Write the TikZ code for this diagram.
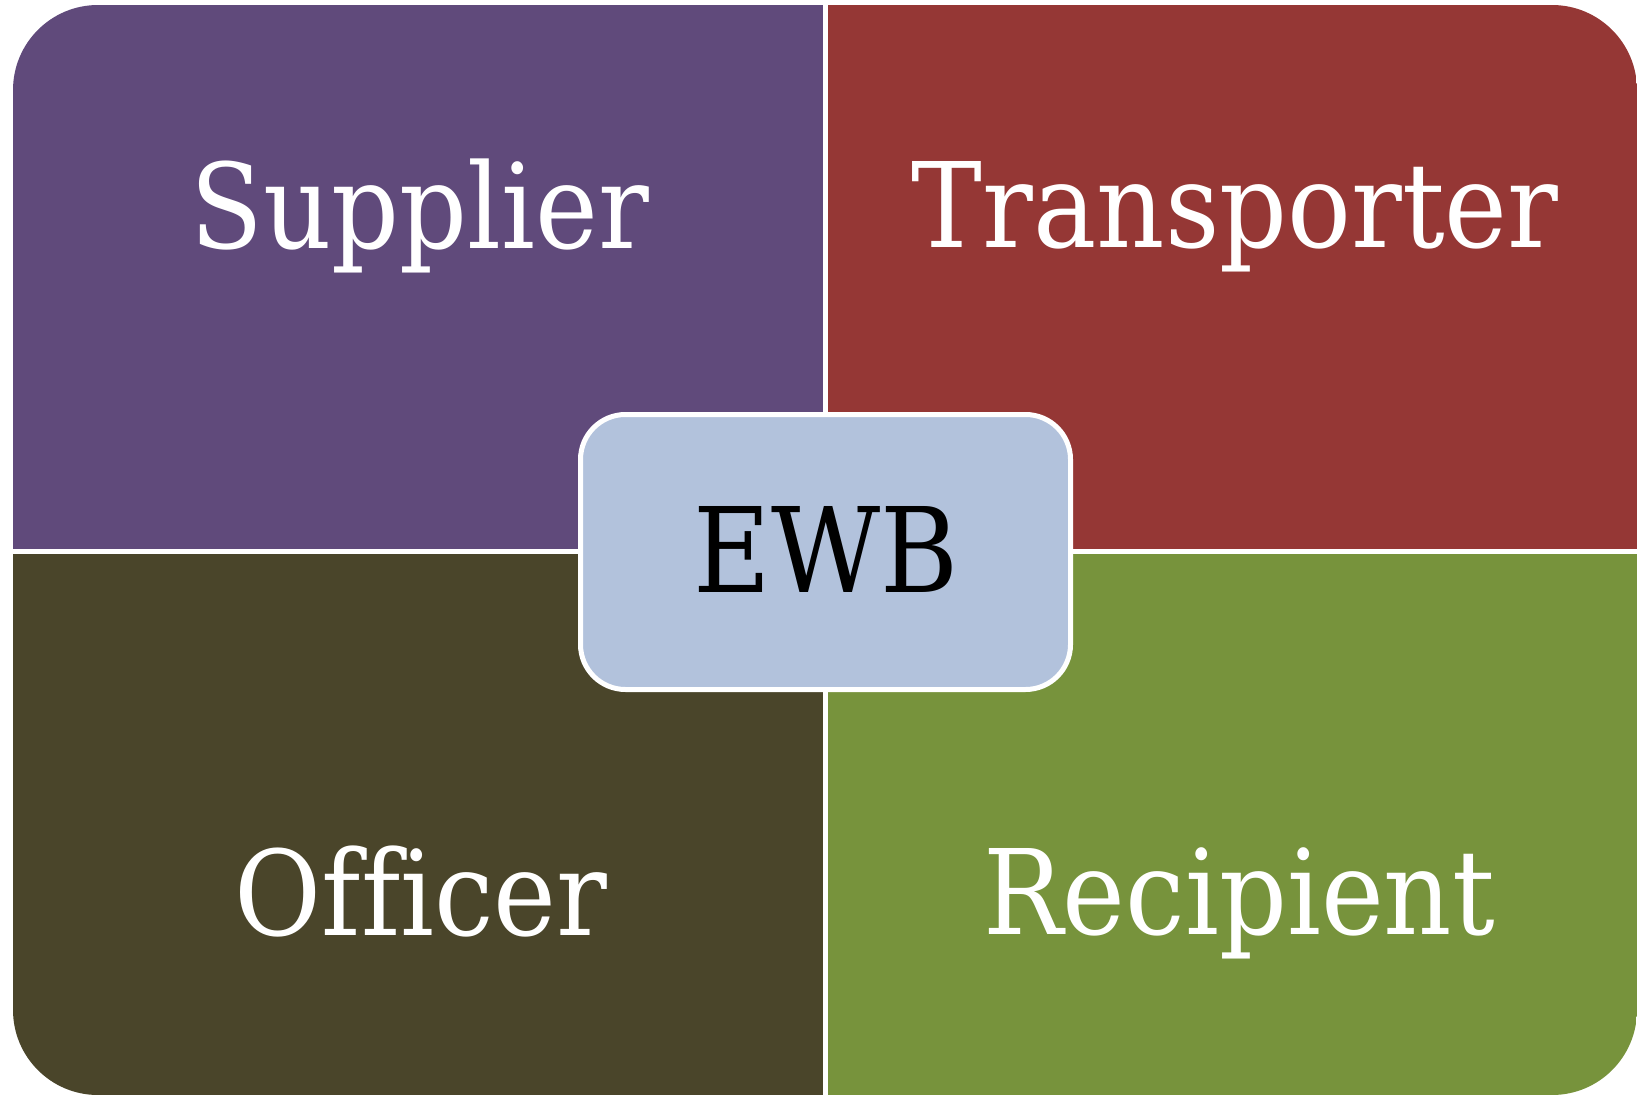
\documentclass[tikz,border=0pt]{standalone}
\usepackage{fontspec}
\usepackage{xcolor}
\usepackage{tikz}
\usetikzlibrary{positioning}
\setmainfont{DejaVu Serif Condensed}[Ligatures=CommonOff]

\definecolor{suppliercol}{HTML}{604A7B}
\definecolor{transpcol}{HTML}{953735}
\definecolor{officercol}{HTML}{4A452A}
\definecolor{recipcol}{HTML}{77933C}
\definecolor{ewbcol}{HTML}{B2C2DC}

\begin{document}
\begin{tikzpicture}[x=0.5pt, y=-0.5pt,
        role/.style={text=white, anchor=base, font=\fontsize{59}{66}\selectfont},
        hub/.style={fill=ewbcol, draw=white, line width=2.5pt, rounded corners=22.5pt,
            minimum width=245pt, minimum height=137.5pt, font=\fontsize{59}{66}\selectfont}]
        \useasboundingbox (0,0) rectangle (1641,1096);

        \begin{scope}
            \clip[rounded corners=42.5pt] (13,5) rectangle (1637,1095);
            \fill[suppliercol] (13,5) rectangle (823,549);
            \fill[transpcol] (828,5) rectangle (1637,549);
            \fill[officercol] (13,554) rectangle (823,1095);
            \fill[recipcol] (828,554) rectangle (1637,1095);
        \end{scope}

        \node[role] (supplier) at (420,249) {Supplier};
        \node[role] (transporter) at (1235,248) {Transporter};
        \node[role] (officer) at (421,935) {Officer};
        \node[role] (recipient) at (1239,934) {Recipient};

        \node[hub] (ewb) at (825.5,552) {};
        \node[anchor=base, font=\fontsize{59}{66}\selectfont] (ewblabel) at (826,592) {EWB};
    \end{tikzpicture}
\end{document}
